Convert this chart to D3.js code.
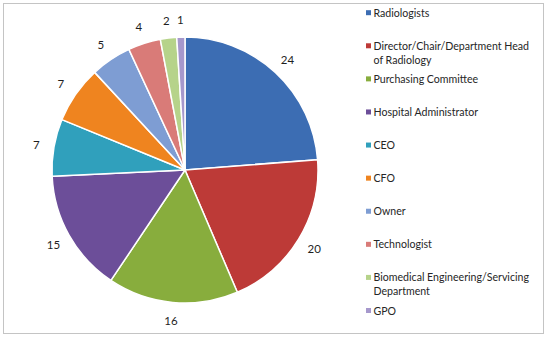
<!DOCTYPE html>
<html>
<head>
<meta charset="utf-8">
<script src="https://cdn.jsdelivr.net/npm/d3@7"></script>
<style>
  html, body { margin: 0; padding: 0; background: #fff; }
  svg { display: block; }
  text { font-family: Lato, "Liberation Sans", sans-serif; }
</style>
</head>
<body>
<svg id="chart" width="550" height="338"></svg>
<script>
const categories = [
  "Radiologists",
  "Director/Chair/Department Head of Radiology",
  "Purchasing Committee",
  "Hospital Administrator",
  "CEO",
  "CFO",
  "Owner",
  "Technologist",
  "Biomedical Engineering/Servicing Department",
  "GPO"
];
const legendLines = [
  ["Radiologists"],
  ["Director/Chair/Department Head", "of Radiology"],
  ["Purchasing Committee"],
  ["Hospital Administrator"],
  ["CEO"],
  ["CFO"],
  ["Owner"],
  ["Technologist"],
  ["Biomedical Engineering/Servicing", "Department"],
  ["GPO"]
];
const values = [24, 20, 16, 15, 7, 7, 5, 4, 2, 1];
const colors = ["#3c6db3", "#bd3a37", "#88ad3d", "#6c4e99", "#30a0bc", "#ef841f", "#7e9dd3", "#d97b78", "#b6d38a", "#a698cc"];

const svg = d3.select("#chart");

// outer border
svg.append("rect")
  .attr("x", 3.5).attr("y", 3.5)
  .attr("width", 540).attr("height", 330)
  .attr("fill", "#fff")
  .attr("stroke", "#c4c4c4")
  .attr("stroke-width", 1);

const cx = 185, cy = 170, r = 133;

const pie = d3.pie().sort(null).value(d => d)(values);
const arc = d3.arc().innerRadius(0).outerRadius(r);
const labelArc = d3.arc().innerRadius(151).outerRadius(151);

const color = d3.scaleOrdinal().domain(categories).range(colors);

const g = svg.append("g").attr("transform", `translate(${cx},${cy})`);

g.selectAll("path.slice")
  .data(pie)
  .join("path")
  .attr("class", "slice")
  .attr("d", arc)
  .attr("fill", (d, i) => color(categories[i]))
  .attr("stroke", "#ffffff")
  .attr("stroke-width", 1.5)
  .attr("stroke-linejoin", "round");

g.selectAll("text.val")
  .data(pie)
  .join("text")
  .attr("class", "val")
  .attr("transform", d => `translate(${labelArc.centroid(d)})`)
  .attr("text-anchor", "middle")
  .attr("dominant-baseline", "central")
  .attr("font-size", 11.5)
  .attr("fill", "#1f1f1f")
  .text(d => d.data);

// legend
const legendY = d3.scaleLinear().domain([0, 9]).range([12.7, 310.5]);
const lg = svg.append("g");
categories.forEach((c, i) => {
  const y = legendY(i);
  lg.append("rect")
    .attr("x", 366).attr("y", y - 2.5)
    .attr("width", 5).attr("height", 5)
    .attr("fill", color(c));
  legendLines[i].forEach((line, j) => {
    lg.append("text")
      .attr("x", 373.5)
      .attr("y", y + j * 14)
      .attr("dominant-baseline", "central")
      .attr("font-size", 10.6)
      .attr("fill", "#262626")
      .text(line);
  });
});
</script>
</body>
</html>
